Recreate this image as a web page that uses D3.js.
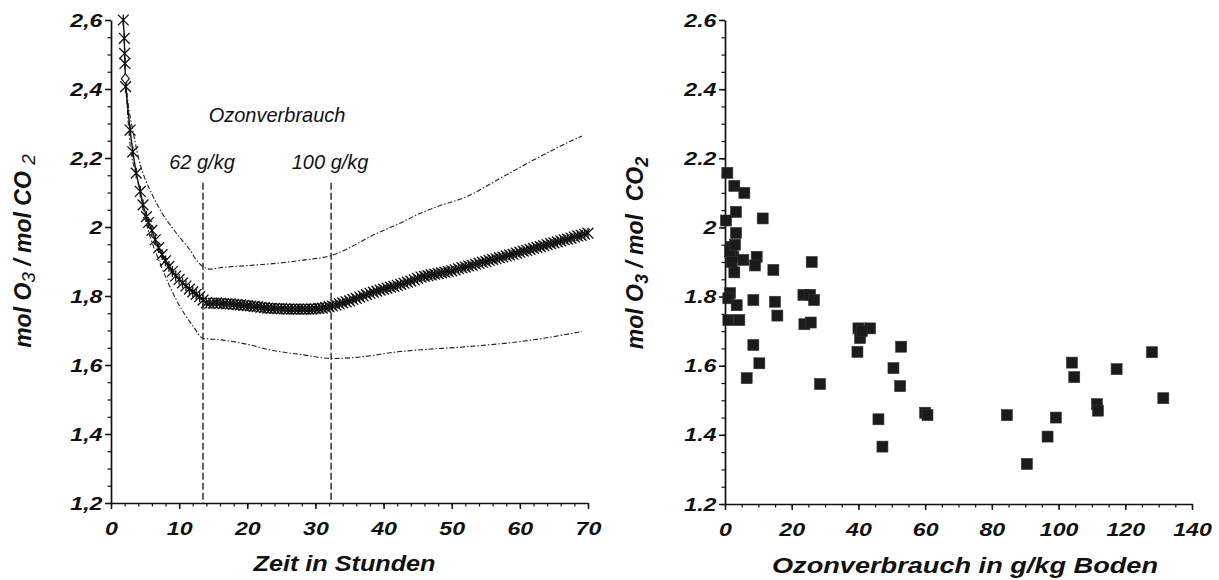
<!DOCTYPE html>
<html>
<head>
<meta charset="utf-8">
<script src="https://cdn.jsdelivr.net/npm/d3@7"></script>
<style>
  html, body { margin: 0; padding: 0; background: #fff; }
  svg { display: block; font-family: "Liberation Sans", Arial, sans-serif; }
</style>
</head>
<body>
<svg id="chart" width="1219" height="580"></svg>
<script>
// ---------- Left chart data ----------
const leftXTicks = [0, 10, 20, 30, 40, 50, 60, 70];
const leftXLabels = ["0", "10", "20", "30", "40", "50", "60", "70"];
const leftYTicks = [1.2, 1.4, 1.6, 1.8, 2.0, 2.2, 2.4, 2.6];
const leftYLabels = ["1,2", "1,4", "1,6", "1,8", "2", "2,2", "2,4", "2,6"];

const mainT = [1.8, 1.95, 2.0, 2.05, 2.15, 2.8, 3.2, 3.7, 4.3, 4.7, 5.2,
  5.5, 6, 6.5, 7, 7.5, 8, 8.5, 9, 9.5, 10, 10.5, 11, 11.5, 12, 12.5, 13, 13.5, 14, 14.5, 15,
  15.5, 16, 16.5, 17, 17.5, 18, 18.5, 19, 19.5, 20, 20.5, 21, 21.5, 22, 22.5, 23, 23.5, 24, 24.5, 25,
  25.5, 26, 26.5, 27, 27.5, 28, 28.5, 29, 29.5, 30, 30.5, 31, 31.5, 32, 32.5, 33, 33.5, 34, 34.5, 35,
  35.5, 36, 36.5, 37, 37.5, 38, 38.5, 39, 39.5, 40, 40.5, 41, 41.5, 42, 42.5, 43, 43.5, 44, 44.5, 45,
  45.5, 46, 46.5, 47, 47.5, 48, 48.5, 49, 49.5, 50, 50.5, 51, 51.5, 52, 52.5, 53, 53.5, 54, 54.5, 55,
  55.5, 56, 56.5, 57, 57.5, 58, 58.5, 59, 59.5, 60, 60.5, 61, 61.5, 62, 62.5, 63, 63.5, 64, 64.5, 65,
  65.5, 66, 66.5, 67, 67.5, 68, 68.5, 69, 69.5, 70];
const mainV = [2.600, 2.547, 2.503, 2.474, 2.407, 2.281, 2.218, 2.156, 2.103, 2.064, 2.030,
  2.013, 1.990, 1.963, 1.940, 1.920, 1.902, 1.886, 1.871, 1.858, 1.848, 1.838, 1.829, 1.820, 1.812, 1.805, 1.798, 1.788, 1.780, 1.779, 1.779,
  1.780, 1.779, 1.778, 1.777, 1.777, 1.776, 1.775, 1.774, 1.773, 1.772, 1.771, 1.770, 1.769, 1.767, 1.766, 1.765, 1.764, 1.764, 1.763, 1.763,
  1.763, 1.762, 1.762, 1.762, 1.762, 1.762, 1.762, 1.762, 1.762, 1.763, 1.764, 1.765, 1.767, 1.769, 1.771, 1.774, 1.777, 1.780, 1.783, 1.786,
  1.790, 1.793, 1.797, 1.800, 1.804, 1.808, 1.811, 1.814, 1.817, 1.820, 1.823, 1.826, 1.828, 1.831, 1.834, 1.837, 1.840, 1.843, 1.847, 1.851,
  1.855, 1.857, 1.859, 1.861, 1.863, 1.865, 1.867, 1.869, 1.871, 1.873, 1.876, 1.879, 1.882, 1.884, 1.887, 1.889, 1.892, 1.895, 1.898, 1.900,
  1.903, 1.906, 1.908, 1.911, 1.913, 1.916, 1.919, 1.921, 1.924, 1.927, 1.930, 1.932, 1.935, 1.938, 1.941, 1.943, 1.946, 1.949, 1.952, 1.954,
  1.957, 1.960, 1.963, 1.965, 1.968, 1.971, 1.974, 1.976, 1.979, 1.982];

const diamondT = [2.1];
const diamondV = [2.43];

const upperT = [2.2, 2.5, 3.0, 3.5, 4.3, 5.2, 6.2, 7.5, 9.1, 10.5, 11.6, 12.5, 13.5, 14.5, 16, 20, 23.3, 28.2, 32.6, 35, 38, 42.4, 45.4, 48, 52.2, 57, 62, 66, 69.1];
const upperV = [2.42, 2.36, 2.30, 2.25, 2.18, 2.13, 2.088, 2.04, 1.995, 1.96, 1.933, 1.905, 1.885, 1.878, 1.882, 1.888, 1.893, 1.904, 1.919, 1.94, 1.972, 2.011, 2.04, 2.06, 2.088, 2.14, 2.194, 2.235, 2.264];

const lowerT = [2.2, 2.8, 3.8, 5.2, 7.2, 9.6, 12.1, 13.5, 16, 20, 23.3, 28, 32.6, 36, 42.4, 45.4, 52.2, 62, 69.1];
const lowerV = [2.40, 2.24, 2.145, 2.01, 1.895, 1.788, 1.711, 1.677, 1.673, 1.66, 1.644, 1.63, 1.619, 1.622, 1.639, 1.644, 1.653, 1.673, 1.697];

const markerLinesT = [13.5, 32.3];
const markerLineTop = 2.128;
const markerLabels = ["62 g/kg", "100 g/kg"];
const annotationTitle = "Ozonverbrauch";
const leftXTitle = "Zeit in Stunden";

// ---------- Right chart data ----------
const rightXTicks = [0, 20, 40, 60, 80, 100, 120, 140];
const rightXLabels = ["0", "20", "40", "60", "80", "100", "120", "140"];
const rightYTicks = [1.2, 1.4, 1.6, 1.8, 2.0, 2.2, 2.4, 2.6];
const rightYLabels = ["1.2", "1.4", "1.6", "1.8", "2", "2.2", "2.4", "2.6"];
const rightXTitle = "Ozonverbrauch in g/kg Boden";

const scatterX = [0.7, 2.8, 5.8, 3.3, 0.3, 11.3, 3.3, 2.0, 2.5, 5.5, 9.5, 9.0, 2.8, 14.5, 26.0, 1.5, 1.0, 3.5, 1.0, 4.3,
  8.5, 15.0, 15.7, 8.5, 10.3, 6.5, 23.5, 25.5, 26.7, 23.8, 25.7, 28.5, 40.0, 40.5, 43.5, 39.7, 41.0, 52.8, 50.5, 52.5,
  46.0, 47.2, 60.0, 60.7, 84.5, 90.5, 96.7, 99.2, 104.0, 104.7, 111.5, 111.8, 117.4, 128.0, 131.4, 1.5, 3.0, 2.0];
const scatterY = [2.158, 2.12, 2.10, 2.045, 2.02, 2.026, 1.984, 1.944, 1.915, 1.906, 1.915, 1.89, 1.87, 1.877, 1.90, 1.81, 1.795, 1.775, 1.732, 1.732,
  1.79, 1.785, 1.745, 1.66, 1.607, 1.564, 1.805, 1.805, 1.79, 1.72, 1.725, 1.547, 1.708, 1.68, 1.708, 1.64, 1.70, 1.655, 1.593, 1.541,
  1.445, 1.366, 1.464, 1.457, 1.457, 1.316, 1.395, 1.45, 1.609, 1.567, 1.489, 1.47, 1.59, 1.639, 1.506, 1.93, 1.95, 1.90];

// ---------- Drawing ----------
const svg = d3.select("#chart");
const FONT = '"Liberation Sans", Arial, sans-serif';

const xL = d3.scaleLinear().domain([0, 70]).range([111, 588]);
const yL = d3.scaleLinear().domain([1.2, 2.6]).range([503, 20]);
const xR = d3.scaleLinear().domain([0, 140]).range([725, 1192]);
const yR = d3.scaleLinear().domain([1.2, 2.6]).range([504, 20]);

function drawAxes(x, y, xTicks, xLabels, yTicks, yLabels, xMinorStep, yMinorStep) {
  const [y0] = y.range();
  const [x0] = x.range();
  const xd = x.domain(), yd = y.domain();
  const xMinor = d3.range(Math.round((xd[1] - xd[0]) / xMinorStep) + 1).map(i => xd[0] + i * xMinorStep);
  const yMinor = d3.range(Math.round((yd[1] - yd[0]) / yMinorStep) + 1).map(i => yd[0] + i * yMinorStep);

  // minor ticks
  svg.append("g").attr("transform", `translate(0,${y0})`)
    .call(d3.axisBottom(x).tickValues(xMinor).tickSize(3.5).tickFormat("").tickSizeOuter(0))
    .call(g => g.select(".domain").remove())
    .selectAll("line").attr("stroke", "#111").attr("stroke-width", 1.2);
  svg.append("g").attr("transform", `translate(${x0},0)`)
    .call(d3.axisLeft(y).tickValues(yMinor).tickSize(3.5).tickFormat("").tickSizeOuter(0))
    .call(g => g.select(".domain").remove())
    .selectAll("line").attr("stroke", "#111").attr("stroke-width", 1.2);

  // major x
  const gx = svg.append("g").attr("transform", `translate(0,${y0})`)
    .call(d3.axisBottom(x).tickValues(xTicks).tickSize(6).tickSizeOuter(0).tickPadding(13)
      .tickFormat((d, i) => xLabels[i]));
  gx.select(".domain").attr("stroke", "#111").attr("stroke-width", 1.7);
  gx.selectAll("line").attr("stroke", "#111").attr("stroke-width", 1.5);
  gx.selectAll("text").attr("font-family", FONT).attr("font-size", 19).attr("font-weight", "bold")
    .attr("font-style", "italic").attr("fill", "#111").attr("transform", "scale(1.22,1)");

  // major y
  const gy = svg.append("g").attr("transform", `translate(${x0},0)`)
    .call(d3.axisLeft(y).tickValues(yTicks).tickSize(6).tickSizeOuter(0).tickPadding(1)
      .tickFormat((d, i) => yLabels[i]));
  gy.select(".domain").attr("stroke", "#111").attr("stroke-width", 1.7);
  gy.selectAll("line").attr("stroke", "#111").attr("stroke-width", 1.5);
  gy.selectAll("text").attr("font-family", FONT).attr("font-size", 19).attr("font-weight", "bold")
    .attr("font-style", "italic").attr("fill", "#111").attr("transform", "scale(1.22,1)");
}

drawAxes(xL, yL, leftXTicks, leftXLabels, leftYTicks, leftYLabels, 2, 0.05);
drawAxes(xR, yR, rightXTicks, rightXLabels, rightYTicks, rightYLabels, 5, 0.05);

// ---- Left chart content ----
svg.append("g").selectAll("line").data(markerLinesT).join("line")
  .attr("x1", d => xL(d)).attr("x2", d => xL(d))
  .attr("y1", yL(markerLineTop)).attr("y2", yL(1.2))
  .attr("stroke", "#111").attr("stroke-width", 1.3).attr("stroke-dasharray", "7,3");

svg.append("text").attr("x", (xL(markerLinesT[0]) + xL(markerLinesT[1])) / 2 + 10).attr("y", 122)
  .attr("text-anchor", "middle").attr("font-family", FONT).attr("font-size", 20)
  .attr("font-style", "italic").attr("fill", "#111").text(annotationTitle);
svg.append("g").selectAll("text").data(markerLinesT).join("text")
  .attr("x", d => xL(d) - 1).attr("y", 169)
  .attr("text-anchor", "middle").attr("font-family", FONT).attr("font-size", 20)
  .attr("font-style", "italic").attr("fill", "#111").text((d, i) => markerLabels[i]);

const bandLine = d3.line().x(d => xL(d[0])).y(d => yL(d[1])).curve(d3.curveMonotoneX);
[[upperT, upperV], [lowerT, lowerV]].forEach(([T, V]) => {
  svg.append("path").datum(T.map((t, i) => [t, V[i]]))
    .attr("d", bandLine).attr("fill", "none").attr("stroke", "#222")
    .attr("stroke-width", 1.1).attr("stroke-dasharray", "5,2,1.5,2");
});

const mainData = mainT.map((t, i) => [t, mainV[i]]);
svg.append("path").datum(mainData)
  .attr("d", d3.line().x(d => xL(d[0])).y(d => yL(d[1])))
  .attr("fill", "none").attr("stroke", "#111").attr("stroke-width", 1.4);
const r = 5.4;
const starPath = `M${-r},${-r}L${r},${r}M${-r},${r}L${r},${-r}M0,${-r}L0,${r}`;
svg.append("g").selectAll("path").data(mainData).join("path")
  .attr("transform", d => `translate(${xL(d[0])},${yL(d[1])})`)
  .attr("d", starPath).attr("fill", "none").attr("stroke", "#111").attr("stroke-width", 1.3);
svg.append("g").selectAll("path").data(diamondT.map((t, i) => [t, diamondV[i]])).join("path")
  .attr("transform", d => `translate(${xL(d[0])},${yL(d[1])})`)
  .attr("d", "M0,-5L4,0L0,5L-4,0Z").attr("fill", "#fff").attr("stroke", "#111").attr("stroke-width", 1.1);

svg.append("text").attr("x", (xL(0) + xL(70)) / 2 - 5).attr("y", 571)
  .attr("text-anchor", "middle").attr("font-family", FONT).attr("font-size", 22)
  .attr("font-weight", "bold").attr("font-style", "italic").attr("fill", "#111")
  .attr("textLength", 182).attr("lengthAdjust", "spacingAndGlyphs").text(leftXTitle);

const yTitleL = svg.append("text").attr("transform", "translate(31,251) rotate(-90)")
  .attr("text-anchor", "middle").attr("font-family", FONT).attr("font-size", 23)
  .attr("font-weight", "bold").attr("font-style", "italic").attr("fill", "#111");
yTitleL.append("tspan").text("mol O");
yTitleL.append("tspan").attr("font-weight", "normal").attr("font-size", 19).attr("dy", 4).text("3");
yTitleL.append("tspan").attr("dy", -4).text(" / mol CO ");
yTitleL.append("tspan").attr("font-weight", "normal").attr("font-size", 19).attr("dy", 4).text("2");

// ---- Right chart content ----
const scatterData = scatterX.map((x, i) => [x, scatterY[i]]);
const s = 11;
svg.append("g").selectAll("rect").data(scatterData).join("rect")
  .attr("x", d => xR(d[0]) - s / 2).attr("y", d => yR(d[1]) - s / 2)
  .attr("width", s).attr("height", s).attr("fill", "#1b1b1b")
  .attr("stroke", "#333").attr("stroke-width", 0.6);

svg.append("text").attr("x", 965).attr("y", 573)
  .attr("text-anchor", "middle").attr("font-family", FONT).attr("font-size", 22)
  .attr("font-weight", "bold").attr("font-style", "italic").attr("fill", "#111")
  .attr("textLength", 386).attr("lengthAdjust", "spacingAndGlyphs").text(rightXTitle);

const yTitleR = svg.append("text").attr("transform", "translate(643,253) rotate(-90)")
  .attr("text-anchor", "middle").attr("font-family", FONT).attr("font-size", 23)
  .attr("font-weight", "bold").attr("font-style", "italic").attr("fill", "#111");
yTitleR.append("tspan").text("mol O");
yTitleR.append("tspan").attr("font-size", 18).attr("dy", 5).text("3");
yTitleR.append("tspan").attr("dy", -5).attr("xml:space", "preserve").text(" / mol  CO");
yTitleR.append("tspan").attr("font-size", 18).attr("dy", 5).text("2");
</script>
</body>
</html>
